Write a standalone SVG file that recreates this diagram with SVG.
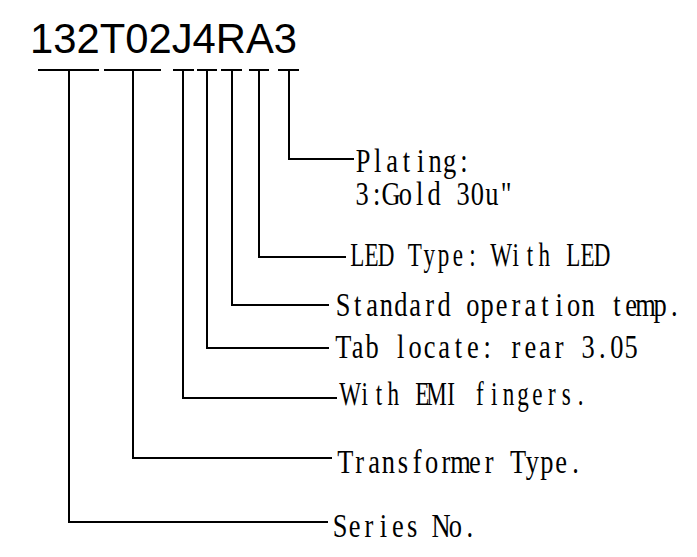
<svg xmlns="http://www.w3.org/2000/svg" width="697" height="557" viewBox="0 0 697 557">
  <style>
    .code { font-family: "Liberation Sans", Arial, sans-serif; font-size: 42px; fill: #000; }
    .lbl { font-family: "Liberation Serif", "Times New Roman", serif; font-size: 33px; fill: #000; text-anchor: middle; }
    .ln { stroke: #000; stroke-width: 2; fill: none; stroke-linecap: square; }
  </style>
  <rect width="697" height="557" fill="#fff"/>
  <g id="code">
    <text class="code" x="30" y="53" textLength="267" lengthAdjust="spacingAndGlyphs">132T02J4RA3</text>
  </g>
  <g id="connectors">
    <line class="ln" x1="39" y1="70" x2="98" y2="70"/>
    <line class="ln" x1="105" y1="70" x2="160" y2="70"/>
    <line class="ln" x1="174" y1="70" x2="193" y2="70"/>
    <line class="ln" x1="198" y1="70" x2="216" y2="70"/>
    <line class="ln" x1="222" y1="70" x2="241" y2="70"/>
    <line class="ln" x1="250" y1="70" x2="268" y2="70"/>
    <line class="ln" x1="279" y1="70" x2="298" y2="70"/>
    <polyline class="ln" points="69,70 69,522 327,522"/>
    <polyline class="ln" points="133,70 133,458 331,458"/>
    <polyline class="ln" points="183,70 183,398 336,398"/>
    <polyline class="ln" points="207,70 207,348 328,348"/>
    <polyline class="ln" points="232,70 232,305 328,305"/>
    <polyline class="ln" points="259,70 259,257 345,257"/>
    <polyline class="ln" points="289,70 289,159 353,159"/>
  </g>
  <g id="plating">
    <text class="lbl" transform="translate(356,172) scale(0.8,1)" x="9 27 45 63 81 99 117 135" y="0">Plating:</text>
    <text class="lbl" transform="translate(355,205) scale(0.8,1)" x="9 27 45 63 81 99 117 135 153 171 189" y="0">3:Gold 30u"</text>
  </g>
  <g id="led">
    <text class="lbl" transform="translate(350,266) scale(0.7,1)" x="10.29 30.86 51.43 72 92.57 113.14 133.71 154.29 174.86 195.43 216 236.57 257.14 277.71 298.29 318.86 339.43 360" y="0">LED Type: With LED</text>
  </g>
  <g id="temp">
    <text class="lbl" transform="translate(336,316) scale(0.8,1)" x="9 27 45 63 81 99 117 135 153 171 189 207 225 243 261 279 297 315 333 351 369 387 405 423" y="0">Standard operation temp.</text>
  </g>
  <g id="tab">
    <text class="lbl" transform="translate(336,358) scale(0.8,1)" x="9 27 45 63 81 99 117 135 153 171 189 207 225 243 261 279 297 315 333 351 369" y="0">Tab locate: rear 3.05</text>
  </g>
  <g id="emi">
    <text class="lbl" transform="translate(343,405) scale(0.7,1)" x="10.29 30.86 51.43 72 92.57 113.14 133.71 154.29 174.86 195.43 216 236.57 257.14 277.71 298.29 318.86 339.43" y="0">With EMI fingers.</text>
  </g>
  <g id="transformer">
    <text class="lbl" transform="translate(338,473) scale(0.8,1)" x="9 27 45 63 81 99 117 135 153 171 189 207 225 243 261 279 297" y="0">Transformer Type.</text>
  </g>
  <g id="series">
    <text class="lbl" transform="translate(333,537) scale(0.8,1)" x="9 27 45 63 81 99 117 135 153 171" y="0">Series No.</text>
  </g>
</svg>
